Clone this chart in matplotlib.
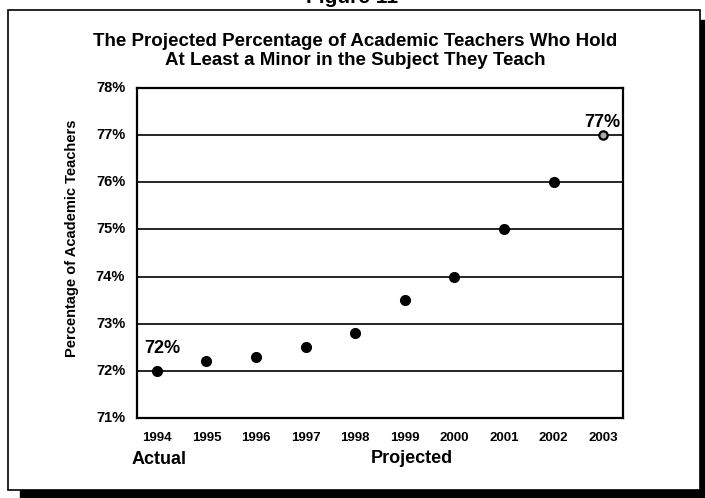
import matplotlib.pyplot as plt
from matplotlib.patches import Rectangle

years = ['1994', '1995', '1996', '1997', '1998', '1999', '2000', '2001', '2002', '2003']
percent = [72.0, 72.2, 72.3, 72.5, 72.8, 73.5, 74.0, 75.0, 76.0, 77.0]
y_ticks = [71, 72, 73, 74, 75, 76, 77, 78]

plt.rcParams['font.family'] = ['Liberation Sans', 'DejaVu Sans']
plt.rcParams['font.weight'] = 'bold'

W, H = 705, 498
fig = plt.figure(figsize=(W / 100, H / 100), dpi=100)


def fx(px):
    return px / W


def fy(py):
    return 1 - py / H


# outer frame with a dark shadow along the bottom and right
fig.patches.append(Rectangle((fx(20), 0), fx(685), 8 / H, transform=fig.transFigure,
                             color='black', zorder=0))
fig.patches.append(Rectangle((fx(700), 0), fx(5), 478 / H, transform=fig.transFigure,
                             color='black', zorder=0))
fig.patches.append(Rectangle((fx(8), fy(490)), fx(692), 480 / H, transform=fig.transFigure,
                             facecolor='white', edgecolor='black', linewidth=1.2, zorder=1))

# page caption, cut off at the top edge in the scan
fig.text(0.5, fy(3), 'Figure 11', ha='center', va='baseline', fontsize=15, fontweight='bold')

fig.text(fx(355), fy(51), 'The Projected Percentage of Academic Teachers Who Hold\n'
         'At Least a Minor in the Subject They Teach',
         ha='center', va='center', fontsize=13.5, fontweight='bold', linespacing=1.17)

ax = fig.add_axes([fx(137), fy(418), fx(486), 330 / H])
ax.set_zorder(2)
x = list(range(len(years)))

for v in y_ticks[1:-1]:
    ax.axhline(v, color='black', linewidth=1.2, zorder=1)

ax.plot(x[:-1], percent[:-1], 'o', color='black', markersize=7, zorder=3)
ax.plot(x[-1], percent[-1], 'o', markerfacecolor='#aaaaaa', markeredgecolor='black',
        markeredgewidth=1.6, markersize=6, zorder=3)

ax.set_xlim(-0.4, 9.4)
ax.set_ylim(71, 78)
ax.set_yticks(y_ticks)
ax.set_yticklabels([f'{v}%' for v in y_ticks], fontsize=10.5, fontweight='bold', va='top')
ax.set_xticks(x)
ax.set_xticklabels(years, fontsize=9.5, fontweight='bold')
ax.tick_params(axis='x', length=0, pad=10)
ax.tick_params(axis='y', length=0, pad=8.5)
for lbl in ax.get_yticklabels():
    lbl.set_va('center')
for s in ax.spines.values():
    s.set_linewidth(1.6)

fig.text(fx(72), fy(238), 'Percentage of Academic Teachers', rotation=90,
         ha='center', va='center', fontsize=10.5, fontweight='bold')

ax.annotate(f'{percent[0]:.0f}%', (x[0], percent[0]), xytext=(3.6, 13), textcoords='offset points',
            ha='center', va='baseline', fontsize=13, fontweight='bold')
ax.annotate(f'{percent[-1]:.0f}%', (x[-1], percent[-1]), xytext=(-0.5, 5.8), textcoords='offset points',
            ha='center', va='baseline', fontsize=13, fontweight='bold')

fig.text(fx(132), fy(459), 'Actual', ha='left', va='center', fontsize=13, fontweight='bold')
fig.text(fx(412), fy(458), 'Projected', ha='center', va='center', fontsize=13, fontweight='bold')

fig.savefig('out.png', dpi=100)
